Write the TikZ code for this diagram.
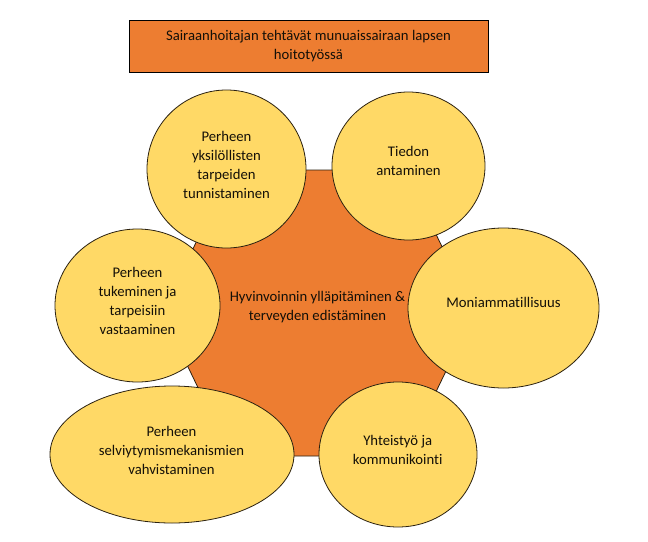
\documentclass[tikz,border=0pt]{standalone}
\usepackage{fontspec}
\setmainfont{Carlito}[Ligatures={NoCommon}]
\definecolor{hexorange}{HTML}{ED7D31}
\definecolor{bubble}{HTML}{FFD966}
\definecolor{txt}{HTML}{141008}
\definecolor{edge}{HTML}{2B2110}
\begin{document}
\begin{tikzpicture}[x=1pt,y=-1pt,
  lbl/.style={align=center,text=txt,font=\fontsize{14.7}{19}\selectfont,inner sep=0pt},
  bub/.style={fill=bubble,draw=edge,line width=0.8pt}]
\useasboundingbox (0,0) rectangle (648,541);
\fill[white] (0,0) rectangle (648,541);
% title box
\draw[fill=hexorange,draw=black,line width=1pt] (129,20) rectangle (488,72);
\node[lbl] (title) at (308.5,46) {Sairaanhoitajan tehtävät munuaissairaan lapsen\\hoitotyössä};
% central hexagon
\draw[fill=hexorange,draw=edge,line width=0.8pt]
  (162,313) -- (231,170) -- (405,170) -- (474,313) -- (405,456) -- (231,456) -- cycle;
\node[lbl] (center) at (317.5,307.5) {Hyvinvoinnin ylläpitäminen \&\\terveyden edistäminen};
% bubbles
\draw[bub] (226.5,169) ellipse [x radius=79.5, y radius=79];
\node[lbl] (e1) at (226.5,164.5) {Perheen\\yksilöllisten\\tarpeiden\\tunnistaminen};
\draw[bub] (408.5,166) ellipse [x radius=76.5, y radius=74];
\node[lbl] (e2) at (408.5,160.5) {Tiedon\\antaminen};
\draw[bub] (503.5,308) ellipse [x radius=95.5, y radius=80];
\node[lbl] (e3) at (503.5,302) {Moniammatillisuus};
\draw[bub] (137.5,305.5) ellipse [x radius=82.5, y radius=76.5];
\node[lbl] (e4) at (137.5,300.5) {Perheen\\tukeminen ja\\tarpeisiin\\vastaaminen};
\draw[bub] (172,454.5) ellipse [x radius=122, y radius=68.5];
\node[lbl] (e5) at (171.5,450) {Perheen\\selviytymismekanismien\\vahvistaminen};
\draw[bub] (398,454.5) ellipse [x radius=79, y radius=72.5];
\node[lbl] (e6) at (397.7,449.5) {Yhteistyö ja\\kommunikointi};
\end{tikzpicture}
\end{document}
